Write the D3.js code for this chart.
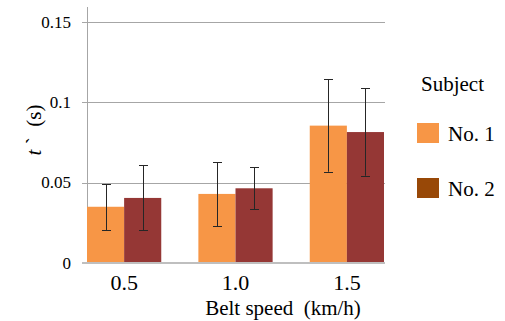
<!DOCTYPE html>
<html><head><meta charset="utf-8">
<script src="https://cdn.jsdelivr.net/npm/d3@7"></script>
</head><body>
<svg id="c" width="505" height="321"></svg>
<script>
const categories = ["0.5", "1.0", "1.5"];
const seriesNames = ["No. 1", "No. 2"];
const no1Values = [0.035, 0.043, 0.0855];
const no1Low = [0.0205, 0.0228, 0.0568];
const no1High = [0.049, 0.0627, 0.1145];
const no2Values = [0.0405, 0.0465, 0.0815];
const no2Low = [0.0205, 0.0334, 0.0543];
const no2High = [0.061, 0.0597, 0.1087];
const yTicks = [0, 0.05, 0.1, 0.15];
const yTickLabels = ["0", "0.05", "0.1", "0.15"];

const barColors = ["#F79646", "#953735"];
const legendColors = ["#F79646", "#984807"];

(function () {
document.body.style.margin = "0";
document.getElementById("c").style.display = "block";
const svg = d3.select("#c");
const pLeft = 87, pRight = 385, pTop = 7, pBottom = 263;
const y = d3.scaleLinear().domain([0, 0.15]).range([pBottom, 22]);
const x0 = d3.scaleBand().domain(categories).range([87, 384]).paddingInner(1/3).paddingOuter(0);
const x1 = d3.scaleBand().domain(seriesNames).range([0, x0.bandwidth()]);

svg.append("g").selectAll("line").data(yTicks.filter(d => d > 0)).join("line")
  .attr("x1", 82).attr("x2", pRight).attr("y1", d => Math.round(y(d)) + 0.5).attr("y2", d => Math.round(y(d)) + 0.5)
  .attr("stroke", "#a6a6a6").attr("stroke-width", 1);

svg.append("line").attr("x1", pLeft + 0.5).attr("x2", pLeft + 0.5).attr("y1", pTop).attr("y2", pBottom)
  .attr("stroke", "#a6a6a6");

svg.append("g").selectAll("text").data(yTicks).join("text")
  .attr("x", 71).attr("y", d => y(d) + 5.5).attr("text-anchor", "end")
  .style("font-family", '"Times New Roman"').attr("font-size", 17).text((d, i) => yTickLabels[i]);

const series = [
  {name: seriesNames[0], vals: no1Values, lo: no1Low, hi: no1High},
  {name: seriesNames[1], vals: no2Values, lo: no2Low, hi: no2High}
];

series.forEach((s, si) => {
  svg.append("g").selectAll("rect").data(categories).join("rect")
    .attr("x", c => x0(c) + x1(s.name))
    .attr("width", x1.bandwidth())
    .attr("y", (c, i) => y(s.vals[i]))
    .attr("height", (c, i) => pBottom - y(s.vals[i]))
    .attr("fill", barColors[si]);
});

svg.append("line").attr("x1", 82).attr("x2", pRight).attr("y1", pBottom).attr("y2", pBottom)
  .attr("stroke", "#bfbfbf").attr("stroke-width", 2);

series.forEach((s) => {
  const g = svg.append("g").attr("stroke", "#262626").attr("stroke-width", 1);
  categories.forEach((c, i) => {
    const cx = Math.round(x0(c) + x1(s.name) + x1.bandwidth() / 2) + 0.5;
    g.append("line").attr("x1", cx).attr("x2", cx).attr("y1", y(s.hi[i])).attr("y2", y(s.lo[i]));
    [s.hi[i], s.lo[i]].forEach(v => {
      g.append("line").attr("x1", cx - 4.5).attr("x2", cx + 4.5)
        .attr("y1", Math.round(y(v)) + 0.5).attr("y2", Math.round(y(v)) + 0.5);
    });
  });
});

svg.append("g").selectAll("text").data(categories).join("text")
  .attr("x", c => x0(c) + x0.bandwidth() / 2).attr("y", 290)
  .attr("text-anchor", "middle").style("font-family", '"Times New Roman"').attr("font-size", 22).text(c => c);

svg.append("text").attr("x", 283).attr("y", 315).attr("text-anchor", "middle")
  .style("font-family", '"Times New Roman"').attr("font-size", 21).style("white-space", "pre").text("Belt speed  (km/h)");

const yt = svg.append("text").attr("transform", "translate(41,130) rotate(-90)")
  .attr("text-anchor", "middle").style("font-family", '"Times New Roman"').attr("font-size", 21).style("white-space", "pre");
yt.append("tspan").style("font-style", "italic").text("t");
yt.append("tspan").text(" `  (s)");

svg.append("text").attr("x", 421).attr("y", 91).style("font-family", '"Times New Roman"').attr("font-size", 21).text("Subject");
const lg = svg.append("g").selectAll("g").data(seriesNames).join("g")
  .attr("transform", (d, i) => `translate(417,${123 + i * 55})`);
lg.append("rect").attr("width", 22).attr("height", 20).attr("fill", (d, i) => legendColors[i]);
lg.append("text").attr("x", 31).attr("y", 18).style("font-family", '"Times New Roman"').attr("font-size", 21).text(d => d);
})();
</script>
</body></html>
